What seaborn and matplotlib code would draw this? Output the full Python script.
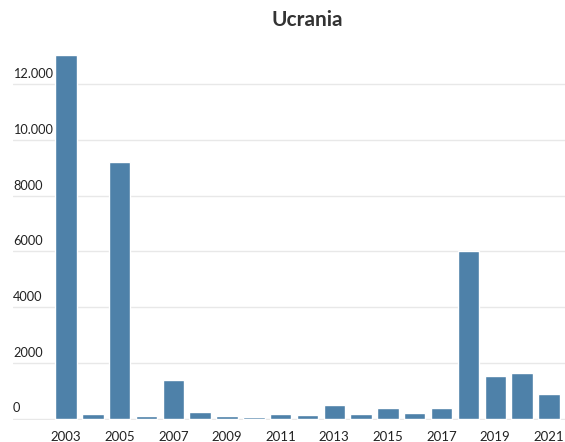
import numpy as np
import pandas as pd
import matplotlib
matplotlib.use("Agg")
import matplotlib.pyplot as plt
import seaborn as sns

# datos
years = list(range(2003, 2022))
values = [13050, 155, 9200, 90, 1380, 230, 75, 65, 155, 140,
          500, 165, 370, 215, 370, 6000, 1520, 1640, 880]
yticks = [0, 2000, 4000, 6000, 8000, 10000, 12000]
ytick_labels = ["0", "2000", "4000", "6000", "8000", "10.000", "12.000"]
title = "Ucrania"

sns.set_theme(style="white")
plt.rcParams["font.family"] = ["Lato", "DejaVu Sans"]

df = pd.DataFrame({"year": [str(y) for y in years], "value": values})

fig = plt.figure(figsize=(5.65, 4.42), dpi=100)
ax = fig.add_axes([0.023, 0.0493, 0.977, 0.8482])

sns.barplot(data=df, x="year", y="value", color="#4e81a9", saturation=1,
            width=0.8, ax=ax, zorder=3)

ax.set_xlim(-1.975, 18.6)
ax.set_ylim(-60, 13400)
sns.despine(ax=ax, left=True, bottom=True, top=True, right=True)

# rejilla horizontal
ax.set_yticks(yticks)
ax.yaxis.grid(True, color="#e8e8e8", linewidth=1.0, zorder=0)
ax.set_axisbelow(True)
ax.tick_params(axis="y", length=0, labelleft=False)
for yv, lab in zip(yticks, ytick_labels):
    ax.annotate(lab, xy=(0, yv), xycoords=("axes fraction", "data"),
                xytext=(0, 3), textcoords="offset points",
                ha="left", va="bottom", fontsize=9.2, color="#222222")

# etiquetas del eje x: sólo años impares
ax.set_xticks(range(len(years)))
ax.set_xticklabels([str(y) if i % 2 == 0 else "" for i, y in enumerate(years)])
ax.tick_params(axis="x", length=0, pad=8, labelsize=9.5, labelcolor="#222222")
ax.set_xlabel("")
ax.set_ylabel("")

ax.annotate(title, xy=(9, 1.0), xycoords=("data", "axes fraction"),
            xytext=(0, 11), textcoords="offset points", ha="center",
            va="bottom", fontsize=15, fontweight="bold", color="#333333")

fig.savefig("out.png", dpi=100)
